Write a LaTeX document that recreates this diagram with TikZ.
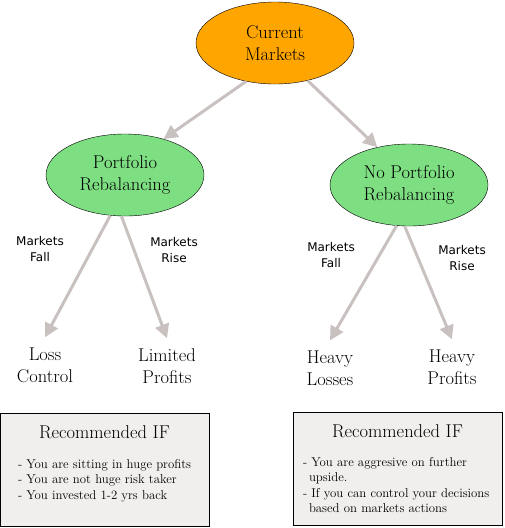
\documentclass[tikz,border=0pt]{standalone}
\usepackage{fontspec}
\newfontfamily\labelfont{DejaVu Sans}
\usepackage{tikz}
\usetikzlibrary{arrows.meta,shapes.geometric,positioning}
\definecolor{mktorange}{RGB}{255,165,0}
\definecolor{mktgreen}{RGB}{125,222,130}
\definecolor{arrowgrey}{RGB}{200,193,192}
\definecolor{boxgrey}{RGB}{240,239,238}
\tikzstyle{vertex}=[ellipse,draw=black,fill=mktgreen,minimum width=158pt,minimum height=82pt,inner sep=0pt,align=center,font=\fontsize{18.5}{22}\selectfont]
\tikzstyle{root}=[vertex,fill=mktorange]
\tikzstyle{leaf}=[align=center,inner sep=10pt,font=\fontsize{18.5}{22}\selectfont]
\tikzstyle{edge} = [draw,line width=3pt,arrowgrey,-{Triangle[length=14pt,width=14pt]}]
\tikzstyle{weight} = [align=center,font=\labelfont\fontsize{12}{16}\selectfont]
\tikzstyle{recbox}=[draw=black,fill=boxgrey,minimum width=209pt,minimum height=113pt,inner sep=0pt]
\tikzstyle{rechead}=[inner sep=0pt,font=\fontsize{18.5}{22}\selectfont]
\tikzstyle{recitem}=[align=left,inner sep=0pt,font=\fontsize{12.8}{15.5}\selectfont]

\begin{document}
\begin{tikzpicture}[x=1pt,y=-1pt]
\useasboundingbox (0,0) rectangle (505,528);

% First we draw the market nodes
\node[root] (cur) at (275,43) {Current\\Markets};
\foreach \pos / \name / \txt in {{(125,175)/port/{Portfolio\\Rebalancing}},{(409,185)/noport/{No Portfolio\\Rebalancing}}}
\node[vertex] (\name) at \pos {\txt};

% Outcomes
\foreach \pos / \name / \txt in {{(45,365)/loss/{Loss\\Control}},{(167,366)/limit/{Limited\\Profits}},{(330,368)/hlose/{Heavy\\Losses}},{(452,367)/hprof/{Heavy\\Profits}}}
\node[leaf] (\name) at \pos {\txt};

% Connect nodes with edges and draw weights
\foreach \source/ \sa / \dest / \da in {cur/233/port/43,cur/311/noport/130,port/250/loss/north,port/265/limit/north,noport/253/hlose/north,noport/264/hprof/north}
\path[edge] (\source.\sa) -- (\dest.\da);

\foreach \pos / \name / \txt in {{(40,249)/pfall/{Markets\\Fall}},{(174,250)/prise/{Markets\\Rise}},{(331,255)/nfall/{Markets\\Fall}},{(462,258)/nrise/{Markets\\Rise}}}
\node[weight] (\name) at \pos {\txt};

% Recommendation boxes
\foreach \pos / \name in {{(104.5,469.5)/recL},{(397.5,468.5)/recR}}
\node[recbox] (\name) at \pos {};
\foreach \name in {recL,recR}
\node[rechead,below=13pt of \name.north] (\name head) {Recommended IF};

\node[recitem,below right=46pt and 18pt of recL.north west] (recLlist) {- You are sitting in huge profits\\- You are not huge risk taker\\- You invested 1-2 yrs back};
\node[recitem,below right=45pt and 10pt of recR.north west] (recRlist) {- You are aggresive on further\\\hspace*{6pt}upside.\\- If you can control your decisions\\\hspace*{6pt}based on markets actions};

\end{tikzpicture}
\end{document}
